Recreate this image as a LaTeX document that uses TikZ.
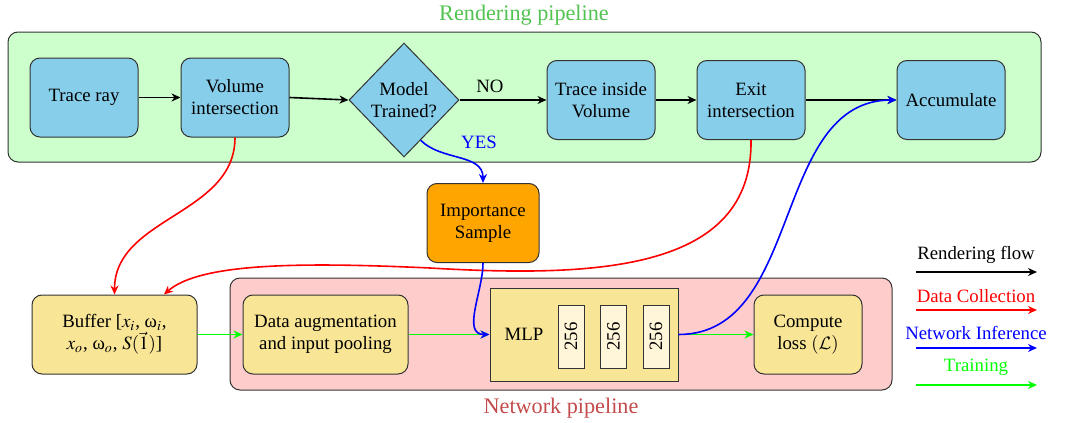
\documentclass[tikz,border=0pt]{standalone}
\usepackage{mathptmx}
\usepackage[no-math]{fontspec}
\setmainfont{Liberation Serif}
\DeclareMathAlphabet{\mathcal}{OMS}{cmsy}{m}{n}
\newcommand{\myomega}{\mbox{ω}}
\usetikzlibrary{shapes.geometric,arrows.meta,calc}
\definecolor{skyb}{RGB}{135,206,235}
\definecolor{orng}{RGB}{255,165,0}
\definecolor{yel}{RGB}{248,229,150}
\definecolor{pinkbg}{RGB}{255,204,204}
\definecolor{greenbg}{RGB}{204,255,204}
\definecolor{cell}{RGB}{255,245,216}
\definecolor{titlegreen}{RGB}{80,195,80}
\definecolor{titlered}{RGB}{195,75,75}
\begin{document}
\begin{tikzpicture}[x=0.5pt,y=-0.5pt,
  font=\rmfamily\fontsize{9.4}{11}\selectfont,
  >={Stealth[length=4.5pt,width=4pt]},
  box/.style={draw=black!80, line width=0.5pt, rounded corners=5pt, minimum width=54pt, minimum height=39.5pt, align=center, inner sep=2pt},
  proc/.style={box, fill=skyb},
  ybox/.style={box, fill=yel},
  panel/.style={draw=black!80, line width=0.5pt, rounded corners=5pt},
  flow/.style={->, black, thick},
  dcol/.style={->, red, thick},
  ninf/.style={->, blue, thick},
  trn/.style={->, green, thick},
  cellbox/.style={draw=black!80, line width=0.5pt, fill=cell, minimum width=13pt, minimum height=31.5pt, inner sep=0pt}
]
\useasboundingbox (0,0) rectangle (1072,423);
% panels
\draw[panel, fill=greenbg] (8,32) rectangle (1041,162);
\node[text=titlegreen, font=\rmfamily\fontsize{11.1}{13}\selectfont] (rtitle) at (524,15) {Rendering pipeline};
\draw[panel, fill=pinkbg] (230,278) rectangle (892,390);
\node[text=titlered, font=\rmfamily\fontsize{11.1}{13}\selectfont] (ntitle) at (561,408) {Network pipeline};

% rendering nodes
\node[proc] (tr) at (84,97.5) {Trace ray};
\node[proc] (vi) at (235,97.5) {Volume\\intersection};
\node[diamond, draw=black!80, line width=0.5pt, fill=skyb, minimum width=55pt, minimum height=57pt, inner sep=0pt, align=center] (dia) at (404,100) {Model\\Trained?};
\node[proc] (ti) at (601,100) {Trace inside\\Volume};
\node[proc] (ex) at (751,100) {Exit\\intersection};
\node[proc] (acc) at (951,100) {Accumulate};

\node[box, fill=orng, minimum width=56pt] (imp) at (483,223) {Importance\\Sample};

% network nodes
\node[ybox, minimum width=82.5pt] (buf) at (114.5,334.5) {Buffer [$x_i$, $\myomega_i$,\\$x_o$, $\myomega_o$, $S(\vec{1})$]};
\node[ybox, minimum width=82.5pt] (da) at (325.5,334.5) {Data augmentation\\and input pooling};
\node[draw=black!80, line width=0.5pt, fill=yel, minimum width=94pt, minimum height=46.5pt, inner sep=0pt] (mlp) at (584,334.5) {};
\node (mlpt) at (524,334.5) {MLP};
\node[cellbox] (c1) at (571,336.5) {\rotatebox{90}{256}};
\node[cellbox] (c2) at (613.5,336.5) {\rotatebox{90}{256}};
\node[cellbox] (c3) at (656,336.5) {\rotatebox{90}{256}};
\node[ybox] (cl) at (808,334.5) {Compute\\loss $(\mathcal{L})$};

% rendering flow
\draw[flow] (tr) -- (vi);
\draw[flow] (vi.east) -- (dia.west);
\draw[flow] (dia.east) -- node[above, pos=0.35] (no) {NO} (ti.west);
\draw[flow] (ti) -- (ex);
\draw[flow] (ex) -- (acc);

% data collection
\draw[dcol] (vi.south) to[out=-90,in=90] (buf.north);
\draw[dcol] (ex.south) .. controls (753,270) and (600,278) .. (430,268) .. controls (300,262) and (200,263) .. (buf.39);

% training
\draw[trn] (buf.east) -- (da.west);
\draw[trn] (da.east) -- (mlp.west);
\draw[trn] (mlp.east) -- (cl.west);

% network inference
\coordinate (yesstart) at ($(dia.south)!0.3!(dia.east)$);
\draw[ninf] (yesstart) to[out=-45,in=90] (imp.north);
\node[text=blue] (yes) at (479,142) {YES};
\draw[ninf] (imp.south) to[out=-90,in=180] (mlp.west);
\draw[ninf] (mlp.east) to[out=0,in=180] (acc.west);

% legend
\node (l1) at (976,255) {Rendering flow};
\coordinate (l1a) at (916,272); \coordinate (l1b) at (1037,272);
\draw[flow] (l1a) -- (l1b);
\node[text=red] (l2) at (976,296) {Data Collection};
\coordinate (l2a) at (916,310); \coordinate (l2b) at (1037,310);
\draw[dcol] (l2a) -- (l2b);
\node[text=blue] (l3) at (976,333) {Network Inference};
\coordinate (l3a) at (916,348); \coordinate (l3b) at (1037,348);
\draw[ninf] (l3a) -- (l3b);
\node[text=green] (l4) at (976,367) {Training};
\coordinate (l4a) at (916,385); \coordinate (l4b) at (1037,385);
\draw[trn] (l4a) -- (l4b);
\end{tikzpicture}
\end{document}
